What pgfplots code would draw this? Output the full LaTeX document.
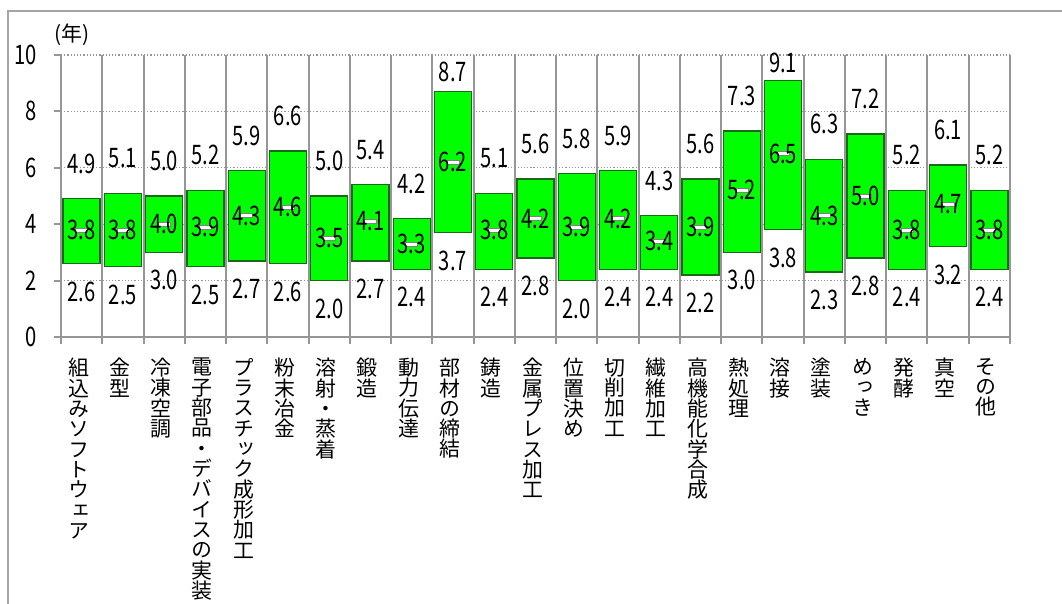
\documentclass[border=0pt]{standalone}
\usepackage{fontspec}
\usepackage{pgfplots}
\pgfplotsset{compat=1.18}
\usepackage{pgfplotstable}

\setmainfont{Noto Sans CJK JP}
\newfontfamily\numfont[FakeStretch=0.75]{Noto Sans CJK JP}
\newfontfamily\tatefont[RawFeature=+vert]{Noto Sans CJK JP}

\definecolor{barfill}{RGB}{0,255,0}
\definecolor{baredge}{RGB}{25,105,25}
\definecolor{gridgray}{RGB}{150,150,150}
\definecolor{framegray}{RGB}{165,165,165}

% min / mean / max (years) per technology field; up = offset of the max label
\pgfplotstableread{
x  min  mean  max  up
1  2.6  3.8   4.9  35
2  2.5  3.8   5.1  35
3  3.0  4.0   5.0  35
4  2.5  3.9   5.2  35
5  2.7  4.3   5.9  35
6  2.6  4.6   6.6  35
7  2.0  3.5   5.0  35
8  2.7  4.1   5.4  35
9  2.4  3.3   4.2  35
10 3.7  6.2   8.7  20
11 2.4  3.8   5.1  35
12 2.8  4.2   5.6  35
13 2.0  3.9   5.8  35
14 2.4  4.2   5.9  35
15 2.4  3.4   4.3  35
16 2.2  3.9   5.6  35
17 3.0  5.2   7.3  35
18 3.8  6.5   9.1  17
19 2.3  4.3   6.3  35
20 2.8  5.0   7.2  35
21 2.4  3.8   5.2  35
22 3.2  4.7   6.1  35
23 2.4  3.8   5.2  35
}\spans

\pgfdeclareplotmark{meanbar}{%
  \pgfpathrectangle{\pgfpoint{-6bp}{-2bp}}{\pgfpoint{12bp}{4bp}}%
  \pgfusepathqfillstroke}

\tikzset{numlabel/.style={font=\numfont\fontsize{27}{27}\selectfont}}

\pgfplotsset{
  common frame/.style={
    scale only axis, width=949bp, height=282bp,
    at={(61bp,267bp)}, anchor=south west,
    xmin=0.5, xmax=23.5, ymin=0, ymax=10, clip=false,
  },
}

\begin{document}
\begin{tikzpicture}
\useasboundingbox (0,0) rectangle (1062bp,604bp);

% bars and axes
\begin{axis}[common frame,
  ybar stacked, bar width=37bp,
  axis x line*=bottom, axis y line*=left,
  axis line style={gridgray, line width=2bp, -},
  ytick={0,2,...,10},
  xtick={0.5,1.5,...,23.5}, xticklabels={},
  xmajorgrids, ymajorgrids,
  x grid style={gridgray, line width=2bp, solid},
  y grid style={gridgray, line width=1.2bp, dotted},
  tick align=outside, major tick length=7bp,
  tick style={gridgray, line width=2bp},
  /pgf/number format/assume math mode=true,
  yticklabel style={numlabel, xshift=-14bp},
  extra x ticks={1,...,23},
  extra x tick style={grid=none, tick style={draw=none},
    xticklabel style={font=\tatefont\fontsize{21}{20.4}\selectfont, align=center,
      anchor=north, inner sep=0pt, xshift=-3bp, yshift=-14bp}},
  extra x tick labels={
    {組\\込\\み\\ソ\\フ\\ト\\ウ\\ェ\\ア},
    {金\\型},
    {冷\\凍\\空\\調},
    {電\\子\\部\\品\\・\\デ\\バ\\イ\\ス\\の\\実\\装},
    {プ\\ラ\\ス\\チ\\ッ\\ク\\成\\形\\加\\工},
    {粉\\末\\冶\\金},
    {溶\\射\\・\\蒸\\着},
    {鍛\\造},
    {動\\力\\伝\\達},
    {部\\材\\の\\締\\結},
    {鋳\\造},
    {金\\属\\プ\\レ\\ス\\加\\工},
    {位\\置\\決\\め},
    {切\\削\\加\\工},
    {繊\\維\\加\\工},
    {高\\機\\能\\化\\学\\合\\成},
    {熱\\処\\理},
    {溶\\接},
    {塗\\装},
    {め\\っ\\き},
    {発\\酵},
    {真\\空},
    {そ\\の\\他}},
]
\addplot [draw=none, fill=none] table [x=x, y=min] {\spans};
\addplot [fill=barfill, draw=baredge, line width=1.3bp]
  table [x=x, y expr=\thisrow{max}-\thisrow{min}] {\spans};
\end{axis}

% mean markers and value labels
\begin{axis}[common frame, hide axis]
\addplot [only marks, mark=meanbar, mark options={fill=white, draw=gray, line width=0.6bp}]
  table [x=x, y=mean] {\spans};
\addplot [draw=none, mark=none, nodes near coords, point meta=explicit symbolic,
  every node near coord/.append style={anchor=center, inner sep=0pt, numlabel}]
  table [x=x, y=mean, meta=mean] {\spans};
\addplot [draw=none, mark=none, nodes near coords, point meta=explicit symbolic,
  visualization depends on={\thisrow{up} \as \up},
  every node near coord/.append style={anchor=center, inner sep=0pt,
    yshift=\up*1bp, numlabel}]
  table [x=x, y=max, meta=max] {\spans};
\addplot [draw=none, mark=none, nodes near coords, point meta=explicit symbolic,
  every node near coord/.append style={anchor=center, inner sep=0pt,
    yshift=-28bp, numlabel}]
  table [x=x, y=min, meta=min] {\spans};
\end{axis}

\node[font=\fontsize{21}{21}\selectfont, inner sep=0pt] at (72bp,569bp) {(年)};

% outer frame
\draw[framegray, line width=2bp] (8bp,-2bp) -- (8bp,593bp) -- (1066bp,593bp);
\end{tikzpicture}
\end{document}
